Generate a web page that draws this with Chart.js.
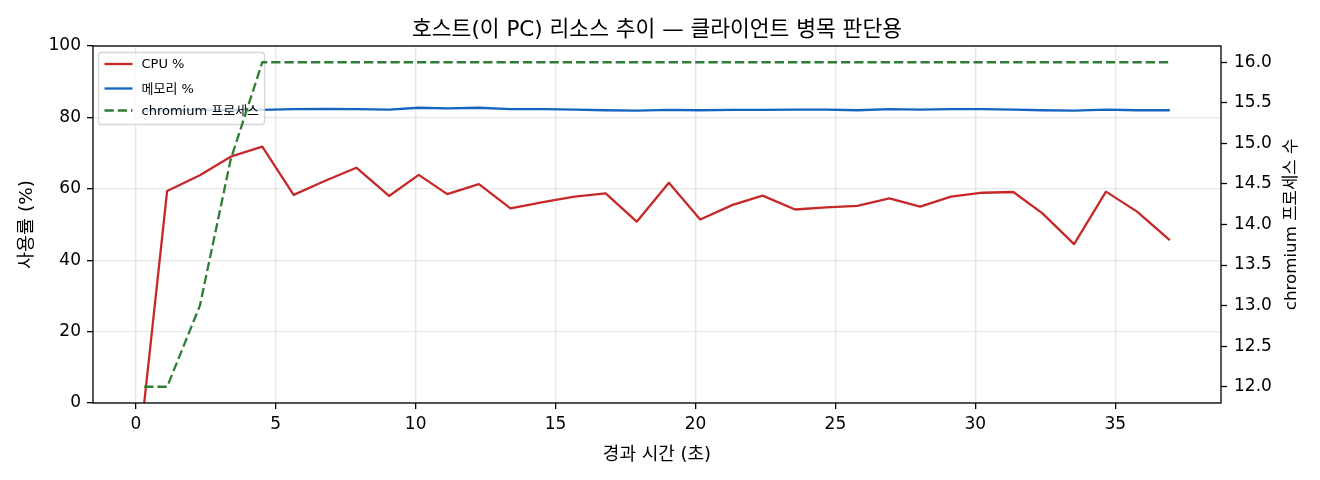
<!DOCTYPE html>
<html>
<head>
<meta charset="utf-8">
<script src="https://cdn.jsdelivr.net/npm/chart.js@4.4.1/dist/chart.umd.min.js"></script>
<style>
  html, body { margin: 0; padding: 0; background: #fff; }
  #wrap { width: 1320px; height: 480px; position: relative; }
</style>
</head>
<body>
<div id="wrap"><canvas id="chart"></canvas></div>
<script>
// 샘플 시각 (초) - 그림에서 읽은 값
const times = [0.3, 1.12, 2.29, 3.39, 4.52, 5.64, 6.75, 7.88, 9.05, 10.11, 11.13, 12.26,
  13.39, 14.55, 15.68, 16.79, 17.9, 19.05, 20.17, 21.33, 22.4, 23.56, 24.67, 25.78,
  26.93, 28.03, 29.13, 30.26, 31.36, 32.4, 33.53, 34.67, 35.78, 36.95];

const cpu = [0, 59.4, 63.8, 69.0, 71.8, 58.3, 62.2, 65.9, 58.0, 63.9, 58.5, 61.3,
  54.5, 56.3, 57.8, 58.7, 50.8, 61.7, 51.4, 55.5, 58.1, 54.2, 54.8, 55.2,
  57.3, 55.0, 57.8, 58.9, 59.1, 53.1, 44.5, 59.2, 53.6, 45.6];

const mem = [81.9, 82.0, 82.1, 82.1, 82.1, 82.3, 82.4, 82.3, 82.2, 82.7, 82.5, 82.7,
  82.3, 82.3, 82.2, 82.0, 81.9, 82.1, 82.0, 82.1, 82.1, 82.2, 82.2, 82.0,
  82.3, 82.2, 82.3, 82.3, 82.2, 82.0, 81.9, 82.2, 82.0, 82.0];

const procs = [12, 12, 13, 14.8, 16, 16, 16, 16, 16, 16, 16, 16,
  16, 16, 16, 16, 16, 16, 16, 16, 16, 16, 16, 16,
  16, 16, 16, 16, 16, 16, 16, 16, 16, 16];

const labels = ["CPU %", "메모리 %", "chromium 프로세스"];
const colors = ["#c62828", "#1565c0", "#2e7d32"];

const titleText = "호스트(이 PC) 리소스 추이 — 클라이언트 병목 판단용";
const xTitle = "경과 시간 (초)";
const yTitle = "사용률 (%)";
const y2Title = "chromium 프로세스 수";

const FONT = "'DejaVu Sans', 'Noto Sans CJK KR', sans-serif";
const pts = (ys) => times.map((t, i) => ({ x: t, y: ys[i] }));

// 범례 + 제목 + 축 제목 직접 그리기
const deco = {
  id: "deco",
  beforeDatasetDraw(chart, args) {
    if (args.index !== 2) return; // 녹색선 아래, 나머지 선 위
    const ctx = chart.ctx;
    ctx.save();
    ctx.font = "13px " + FONT;
    let w = 0;
    labels.forEach(l => { w = Math.max(w, ctx.measureText(l).width); });
    const bx = 98.5, by = 52.5, bh = 72, bw = 141.5 - bx + w + 5.5;
    ctx.beginPath();
    ctx.roundRect(bx, by, bw, bh, 3);
    ctx.fillStyle = "rgba(255,255,255,0.8)";
    ctx.fill();
    ctx.strokeStyle = "rgba(204,204,204,0.8)";
    ctx.lineWidth = 1.3;
    ctx.stroke();
    const rows = [64, 88.5, 110.5];
    labels.forEach((l, i) => {
      ctx.beginPath();
      ctx.strokeStyle = colors[i];
      ctx.lineWidth = 2.3;
      ctx.setLineDash(i === 2 ? [9.25, 4] : []);
      ctx.moveTo(104.5, rows[i]);
      ctx.lineTo(132.5, rows[i]);
      ctx.stroke();
      ctx.setLineDash([]);
      ctx.fillStyle = "#000";
      ctx.textAlign = "left";
      ctx.textBaseline = "middle";
      ctx.fillText(l, 141.5, rows[i] + 1);
    });
    ctx.restore();
  },
  afterDraw(chart) {
    const { ctx, chartArea: a } = chart;
    ctx.save();
    // 테두리
    ctx.strokeStyle = "#000";
    ctx.lineWidth = 1.3;
    ctx.strokeRect(a.left, a.top, a.right - a.left, a.bottom - a.top);
    const cx = (a.left + a.right) / 2, cy = (a.top + a.bottom) / 2;
    ctx.fillStyle = "#000";
    ctx.textAlign = "center";
    ctx.textBaseline = "middle";
    ctx.font = "21.5px " + FONT;
    ctx.fillText(titleText, cx, 30);
    ctx.font = "18px " + FONT;
    ctx.fillText(xTitle, cx, 455);
    ctx.translate(27, cy);
    ctx.rotate(-Math.PI / 2);
    ctx.font = "18.5px " + FONT;
    ctx.fillText(yTitle, 0, 0);
    ctx.restore();
    ctx.save();
    ctx.fillStyle = "#000";
    ctx.textAlign = "center";
    ctx.textBaseline = "middle";
    ctx.font = "16.7px " + FONT;
    ctx.translate(1292, cy);
    ctx.rotate(-Math.PI / 2);
    ctx.fillText(y2Title, 0, 0);
    ctx.restore();
  }
};

const tickFont = { family: FONT, size: 17 };
const gridColor = "rgba(176,176,176,0.3)";

new Chart(document.getElementById("chart"), {
  type: "line",
  data: {
    datasets: [
      { label: labels[0], data: pts(cpu), yAxisID: "y", borderColor: colors[0], order: 2 },
      { label: labels[1], data: pts(mem), yAxisID: "y", borderColor: colors[1], order: 1 },
      { label: labels[2], data: pts(procs), yAxisID: "y2", borderColor: colors[2], borderDash: [9.25, 4], order: 0 }
    ]
  },
  options: {
    responsive: true,
    maintainAspectRatio: false,
    animation: false,
    devicePixelRatio: 1,
    layout: { padding: { top: 46, left: 0, right: 0, bottom: 0 } },
    elements: {
      line: { borderWidth: 2.3, tension: 0, fill: false, borderJoinStyle: "round" },
      point: { radius: 0, hoverRadius: 0 }
    },
    plugins: { legend: { display: false }, title: { display: false }, tooltip: { enabled: false } },
    scales: {
      x: {
        type: "linear",
        min: -1.53,
        max: 38.78,
        afterFit(s) { s.height = 77; },
        ticks: { stepSize: 5, includeBounds: false, font: tickFont, color: "#000", padding: 5, maxRotation: 0 },
        grid: { color: gridColor, lineWidth: 1.3, tickColor: "#000", tickLength: 6, tickWidth: 1.3 },
        border: { display: false }
      },
      y: {
        position: "left",
        min: 0,
        max: 100,
        afterFit(s) { s.width = 93; },
        ticks: { stepSize: 20, font: tickFont, color: "#000", padding: 6 },
        grid: { color: gridColor, lineWidth: 1.3, tickColor: "#000", tickLength: 6, tickWidth: 1.3 },
        border: { display: false }
      },
      y2: {
        position: "right",
        min: 11.8,
        max: 16.2,
        afterFit(s) { s.width = 99; },
        ticks: { stepSize: 0.5, includeBounds: false, font: tickFont, color: "#000", padding: 7,
          callback: v => v.toFixed(1) },
        grid: { drawOnChartArea: false, tickColor: "#000", tickLength: 6, tickWidth: 1.3 },
        border: { display: false }
      }
    }
  },
  plugins: [deco]
});
</script>
</body>
</html>
